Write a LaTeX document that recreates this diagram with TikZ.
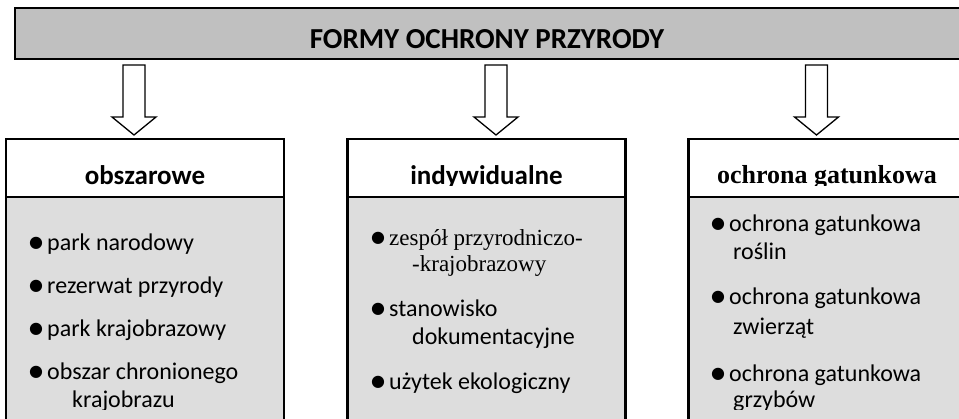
\documentclass[tikz,border=0pt]{standalone}
\usepackage{fontspec}
\setmainfont{Carlito}
\newfontfamily\timesfont{Liberation Serif}
\newfontfamily\dotfont{DejaVu Sans}
\usetikzlibrary{positioning}

\definecolor{barfill}{HTML}{C0C0C0}
\definecolor{listfill}{HTML}{DDDDDD}

% bullet of the lists
\newcommand{\bul}{\makebox[18pt][l]{\raisebox{2.5pt}{\dotfont\fontsize{16}{16}\selectfont ●}}}
% hollow arrow pointing down to a tip
\newcommand{\openarrow}[1]{\draw[hollow] (#1) -- ++(-22,-18) -- ++(11,0) -- ++(0,-52) -- ++(22,0) -- ++(0,52) -- ++(11,0) -- cycle;}

\begin{document}
\begin{tikzpicture}[
  x=1pt, y=-1pt,
  titlebar/.style={draw,line width=2.5pt,fill=barfill,minimum width=947pt,minimum height=51pt,inner sep=0pt},
  headbox/.style={draw,line width=2.5pt,fill=white,minimum width=278pt,minimum height=58pt,inner sep=0pt},
  listbox/.style={draw,line width=2.5pt,fill=listfill,minimum width=278pt,minimum height=240pt,inner sep=0pt},
  hollow/.style={draw,line width=1.3pt,fill=white},
  headtext/.style={anchor=base,inner sep=0pt,font=\fontsize{27}{30}\selectfont\bfseries},
  item/.style={anchor=base west,inner sep=0pt,font=\fontsize{24}{28}\selectfont},
  serifitem/.style={item,font=\timesfont\fontsize{23}{26}\selectfont}
  ]
  \useasboundingbox (0,0) rectangle (959,418);

  \node[titlebar] (bar) at (488.5,33.5) {};

  \coordinate (tipA) at (134,135);
  \coordinate (tipB) at (496,135);
  \coordinate (tipC) at (816.5,135);
  \openarrow{tipA}
  \openarrow{tipB}
  \openarrow{tipC}

  \node[listbox] (bodyA) at (145,317) {};
  \node[listbox] (bodyB) at (486.5,317) {};
  \node[listbox] (bodyC) at (827.5,317) {};
  \node[headbox] (headA) at (145,168) {};
  \node[headbox] (headB) at (486.5,168) {};
  \node[headbox] (headC) at (827.5,168) {};

  \begin{scope}
    \clip (0,0) rectangle (959,185) (0,199) rectangle (959,409);
    \node[anchor=base,inner sep=0pt,font=\fontsize{29}{34}\selectfont\bfseries] (title) at (487,48) {FORMY OCHRONY PRZYRODY};

    \node[headtext] (hA) at (145,184) {obszarowe};
    \node[headtext] (hB) at (486.5,184) {indywidualne};
    \node[headtext,font=\timesfont\fontsize{26}{30}\selectfont\bfseries] (hC) at (827,183) {ochrona gatunkowa};

    \node[item] (a1) at (29,250) {\bul park narodowy};
    \node[item] (a2) at (29,293) {\bul rezerwat przyrody};
    \node[item] (a3) at (29,336) {\bul park krajobrazowy};
    \node[item] (a4) at (29,379) {\bul obszar chronionego};
    \node[item] (a4b) at (72,407) {krajobrazu};

    \node[serifitem] (b1) at (371,245) {\bul zespół przyrodniczo-};
    \node[serifitem] (b1b) at (412,271) {-krajobrazowy};
    \node[item] (b2) at (371,316) {\bul stanowisko};
    \node[item] (b2b) at (412,344) {dokumentacyjne};
    \node[item] (b3) at (371,389) {\bul użytek ekologiczny};

    \node[item] (c1) at (711,231) {\bul ochrona gatunkowa};
    \node[item] (c1b) at (733,259) {roślin};
    \node[item] (c2) at (711,304) {\bul ochrona gatunkowa};
    \node[item] (c2b) at (733,334) {zwierząt};
    \node[item] (c3) at (711,381) {\bul ochrona gatunkowa};
    \node[item] (c3b) at (733,407) {grzybów};
  \end{scope}
\end{tikzpicture}
\end{document}
